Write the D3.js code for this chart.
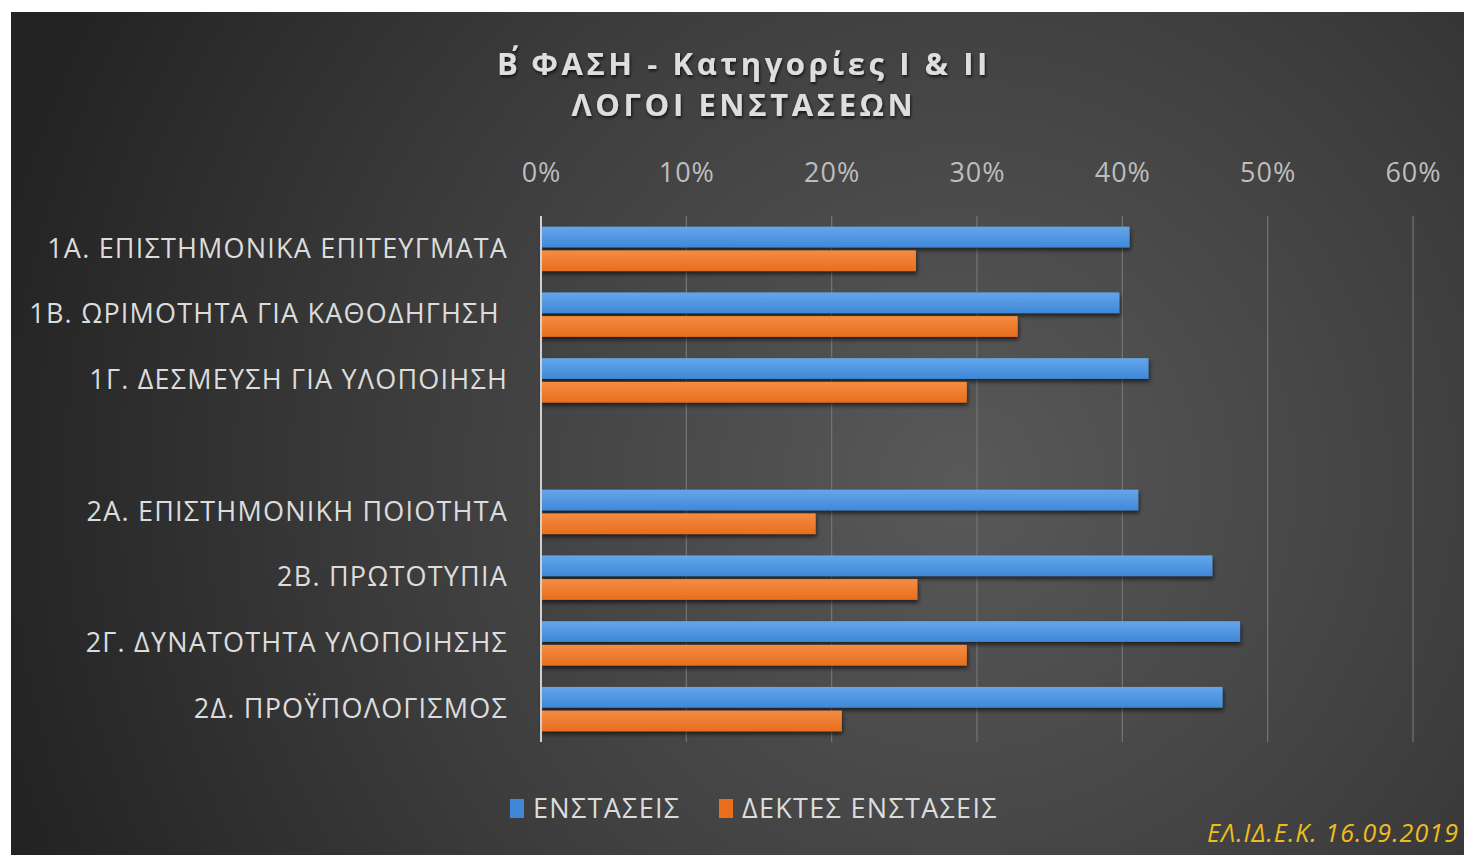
<!DOCTYPE html>
<html>
<head>
<meta charset="utf-8">
<script src="https://cdn.jsdelivr.net/npm/d3@7"></script>
<style>
  body { margin: 0; background: #fff; overflow: hidden; }
  text { white-space: pre; }
</style>
</head>
<body>
<div id="viz-container"></div>
<script>
let width = 1464;
let height = 855;

// data
let categories = ['1Α. ΕΠΙΣΤΗΜΟΝΙΚΑ ΕΠΙΤΕΥΓΜΑΤΑ', '1Β. ΩΡΙΜΟΤΗΤΑ ΓΙΑ ΚΑΘΟΔΗΓΗΣΗ ', '1Γ. ΔΕΣΜΕΥΣΗ ΓΙΑ ΥΛΟΠΟΙΗΣΗ', '',
  '2Α. ΕΠΙΣΤΗΜΟΝΙΚΗ ΠΟΙΟΤΗΤΑ', '2Β. ΠΡΩΤΟΤΥΠΙΑ', '2Γ. ΔΥΝΑΤΟΤΗΤΑ ΥΛΟΠΟΙΗΣΗΣ', '2Δ. ΠΡΟΫΠΟΛΟΓΙΣΜΟΣ'];
let enstaseis = [0.405, 0.398, 0.418, null, 0.411, 0.462, 0.481, 0.469];
let dektes = [0.258, 0.328, 0.293, null, 0.189, 0.259, 0.293, 0.207];
let seriesNames = ['ΕΝΣΤΑΣΕΙΣ', 'ΔΕΚΤΕΣ ΕΝΣΤΑΣΕΙΣ'];
let xTicks = [0, 0.1, 0.2, 0.3, 0.4, 0.5, 0.6];
let titleLines = [['Β', '΄', 'ΦΑΣΗ - Κατηγορίες Ι & ΙΙ'], ['ΛΟΓΟΙ ΕΝΣΤΑΣΕΩΝ']];
let footer = 'ΕΛ.ΙΔ.Ε.Κ. 16.09.2019';

let seriesColors = [['#64a6ea', '#3f88d8'], ['#f58c42', '#e86e1d']];
let font = '"Open Sans", "Noto Sans", sans-serif';

let viz = d3.select('#viz-container')
  .append('svg')
  .attr('width', width)
  .attr('height', height);

let defs = viz.append('defs');

let bg = defs.append('radialGradient')
  .attr('id', 'bg')
  .attr('gradientUnits', 'userSpaceOnUse')
  .attr('cx', 960).attr('cy', 480).attr('r', 1000);
bg.append('stop').attr('offset', '0').attr('stop-color', '#595959');
bg.append('stop').attr('offset', '0.55').attr('stop-color', '#3d3d3d');
bg.append('stop').attr('offset', '1').attr('stop-color', '#232323');

seriesColors.forEach(function(c, i){
  let g = defs.append('linearGradient')
    .attr('id', 'bar' + i)
    .attr('x1', 0).attr('y1', 0).attr('x2', 0).attr('y2', 1);
  g.append('stop').attr('offset', '0').attr('stop-color', c[0]);
  g.append('stop').attr('offset', '1').attr('stop-color', c[1]);
});

let shadow = defs.append('filter')
  .attr('id', 'shadow')
  .attr('x', '-5%').attr('y', '-30%').attr('width', '110%').attr('height', '180%');
shadow.append('feDropShadow')
  .attr('dx', 1).attr('dy', 3).attr('stdDeviation', 2)
  .attr('flood-color', '#000').attr('flood-opacity', 0.6);

let txtShadow = defs.append('filter').attr('id', 'txtShadow');
txtShadow.append('feDropShadow')
  .attr('dx', 1).attr('dy', 2).attr('stdDeviation', 1.5)
  .attr('flood-color', '#000').attr('flood-opacity', 0.7);

// chart background (white margin top / left like the screenshot)
viz.append('rect')
  .attr('x', 11).attr('y', 12)
  .attr('width', width - 11).attr('height', height - 12)
  .attr('fill', 'url(#bg)');

let plotTop = 216;
let plotBottom = 742;

let xScale = d3.scaleLinear().domain([0, 0.6]).range([541, 1413]);
let yScale = d3.scaleBand().domain(d3.range(categories.length)).range([plotTop, plotBottom]);
let subScale = d3.scaleBand().domain([0, 1]).range([0, yScale.bandwidth()])
  .paddingInner(0.125).paddingOuter(0.45);

// title
let title = viz.selectAll('.title').data(titleLines).enter()
  .append('text')
  .attr('class', 'title')
  .attr('x', 744)
  .attr('y', (d, i) => 75 + i * 41)
  .attr('text-anchor', 'middle')
  .attr('font-family', font)
  .attr('font-weight', 'bold')
  .attr('font-size', 31)
  .attr('letter-spacing', 3.6)
  .attr('fill', '#dedede')
  .attr('filter', 'url(#txtShadow)');
title.selectAll('tspan').data(d => d).enter()
  .append('tspan')
  .attr('dx', (d, i) => (d == '΄' ? 3 : (i == 2 ? 3 : 0)))
  .text(d => d);

// gridlines
viz.selectAll('.grid').data(xTicks.slice(1)).enter()
  .append('line')
  .attr('class', 'grid')
  .attr('x1', d => xScale(d)).attr('x2', d => xScale(d))
  .attr('y1', plotTop).attr('y2', plotBottom)
  .attr('stroke', '#767676')
  .attr('stroke-width', 1.2);

// top axis labels
let xAxis = d3.axisTop(xScale)
  .tickValues(xTicks)
  .tickFormat(d3.format('.0%'))
  .tickSize(0)
  .tickPadding(0);

let xAxisG = viz.append('g')
  .attr('transform', 'translate(0,182)')
  .call(xAxis);
xAxisG.select('.domain').remove();
xAxisG.selectAll('text')
  .attr('font-family', font)
  .attr('font-size', 27)
  .attr('letter-spacing', 1)
  .attr('fill', '#bdbdbd');

// bars
let seriesData = [enstaseis, dektes];
seriesData.forEach(function(values, s){
  let idx = values.map((d, i) => i).filter(i => values[i] != null);
  viz.selectAll('.bar' + s).data(idx).enter()
    .append('rect')
    .attr('class', 'bar' + s)
    .attr('x', xScale(0))
    .attr('y', i => yScale(i) + subScale(s))
    .attr('width', i => xScale(values[i]) - xScale(0))
    .attr('height', subScale.bandwidth())
    .attr('fill', 'url(#bar' + s + ')')
    .attr('filter', 'url(#shadow)');
});

// vertical axis line
viz.append('line')
  .attr('x1', xScale(0)).attr('x2', xScale(0))
  .attr('y1', plotTop).attr('y2', plotBottom)
  .attr('stroke', '#d0d0d0')
  .attr('stroke-width', 2);

// category labels
let yAxis = d3.axisLeft(yScale)
  .tickFormat(i => categories[i])
  .tickSize(0)
  .tickPadding(33);
let yAxisG = viz.append('g')
  .attr('transform', 'translate(' + xScale(0) + ',0)')
  .call(yAxis);
yAxisG.select('.domain').remove();
yAxisG.selectAll('text')
  .attr('font-family', font)
  .attr('font-size', 27)
  .attr('letter-spacing', 1.2)
  .attr('fill', '#dcdcdc');

// legend
let legendX = [510, 719];
let legend = viz.selectAll('.legend').data(seriesNames).enter()
  .append('g')
  .attr('class', 'legend')
  .attr('transform', (d, i) => 'translate(' + legendX[i] + ',0)');
legend.append('rect')
  .attr('x', 0).attr('y', 799)
  .attr('width', 14).attr('height', 19)
  .attr('fill', (d, i) => seriesColors[i][1]);
legend.append('text')
  .text(d => d)
  .attr('x', 23).attr('y', 818)
  .attr('font-family', font)
  .attr('font-size', 27)
  .attr('letter-spacing', 1.3)
  .attr('fill', '#dcdcdc');

// footer stamp
viz.append('text')
  .text(footer)
  .attr('x', 1207).attr('y', 842)
  .attr('font-family', font)
  .attr('font-style', 'italic')
  .attr('font-size', 25)
  .attr('letter-spacing', 1.1)
  .attr('fill', '#eebc1f');
</script>
</body>
</html>
